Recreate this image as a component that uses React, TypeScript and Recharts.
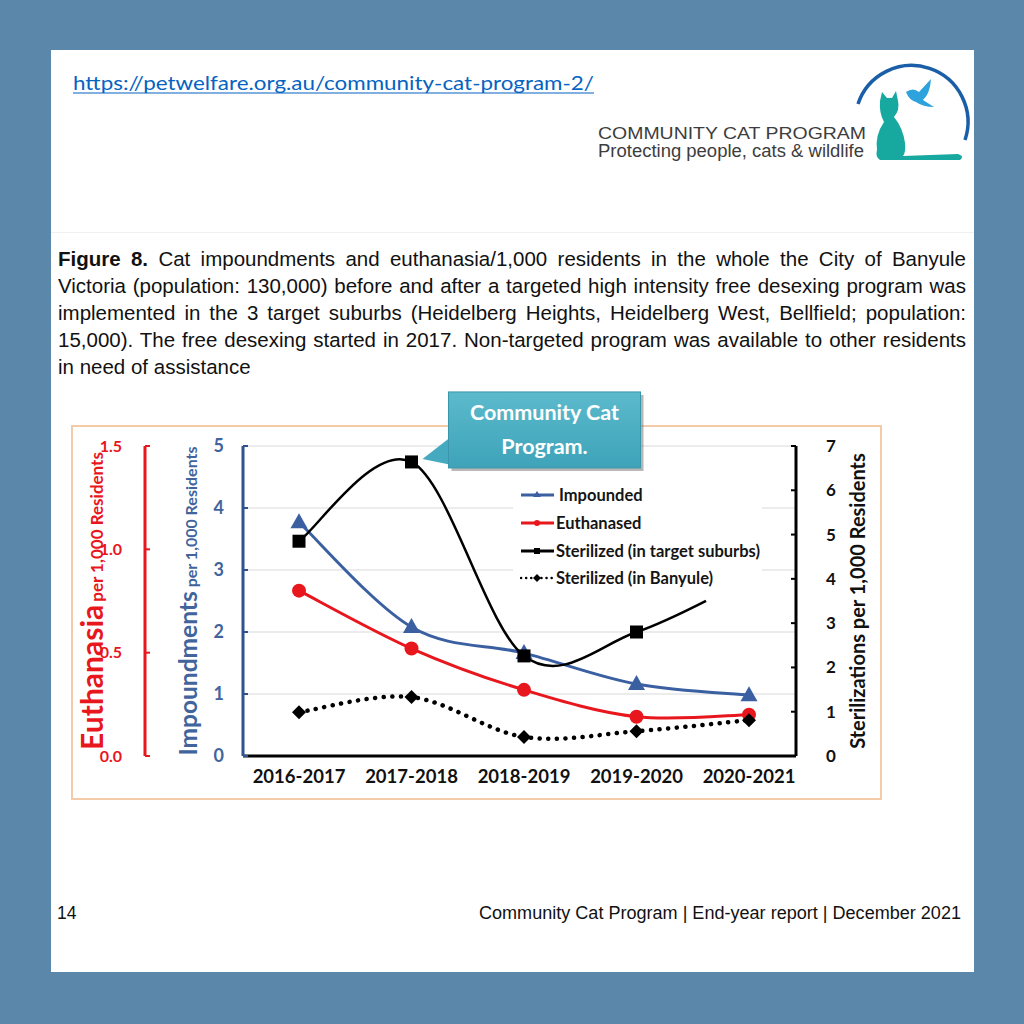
import React from 'react';
import { LineChart, Line, XAxis, YAxis, CartesianGrid, Legend } from 'recharts';

// ---------------- data ----------------
const years = ['2016-2017', '2017-2018', '2018-2019', '2019-2020', '2020-2021'];
const impounded = [3.77, 2.08, 1.66, 1.16, 0.98];
const euthanased = [0.8, 0.52, 0.32, 0.19, 0.2];
const sterilizedTarget = [4.85, 6.64, 2.26, 2.8, 4.0];
const sterilizedBanyule = [0.99, 1.33, 0.43, 0.56, 0.81];

const impTicks = [0, 1, 2, 3, 4, 5];
const euthTicks = [0, 0.5, 1, 1.5];
const sterTicks = [0, 1, 2, 3, 4, 5, 6, 7];

const legendLabels = ['Impounded', 'Euthanased', 'Sterilized (in target suburbs)', 'Sterilized (in Banyule)'];

const captionLines = [
  'Cat impoundments and euthanasia/1,000 residents in the whole the City of Banyule',
  'Victoria (population: 130,000) before and after a targeted high intensity free desexing program was',
  'implemented in the 3 target suburbs (Heidelberg Heights, Heidelberg West, Bellfield; population:',
  '15,000). The free desexing started in 2017. Non-targeted program was available to other residents',
  'in need of assistance',
];

const data = years.map((year, i) => ({
  year,
  impounded: impounded[i],
  euthanased: euthanased[i],
  sterTarget: sterilizedTarget[i],
  sterBanyule: sterilizedBanyule[i],
}));

// ---------------- style ----------------
const BLUE = '#3b60a2';
const BLUE_AXIS = '#2f5391';
const BLUE_TEXT = '#41649c';
const RED = '#e8161d';
const BLACK = '#000000';
const CHART_FONT = 'Lato, "Open Sans", sans-serif';
const ARIAL = '"Liberation Sans", Arial, sans-serif';

const IMP_ID = 'a1imp';
const EUTH_ID = 'b2euth';
const STER_ID = 'c3ster';

// Excel-like smoothed curve (Catmull-Rom, factor 1/6); optional partial last segment
function excelCurve(lastFrac = 1) {
  return (ctx: any) => {
    let pts: number[][] = [];
    return {
      areaStart() {},
      areaEnd() {},
      lineStart() {
        pts = [];
      },
      point(x: number, y: number) {
        pts.push([+x, +y]);
      },
      lineEnd() {
        const n = pts.length;
        if (!n) return;
        ctx.moveTo(pts[0][0], pts[0][1]);
        for (let i = 0; i < n - 1; i++) {
          const p0 = pts[Math.max(0, i - 1)];
          const p1 = pts[i];
          const p2 = pts[i + 1];
          const p3 = pts[Math.min(n - 1, i + 2)];
          const c1 = [p1[0] + (p2[0] - p0[0]) / 6, p1[1] + (p2[1] - p0[1]) / 6];
          const c2 = [p2[0] - (p3[0] - p1[0]) / 6, p2[1] - (p3[1] - p1[1]) / 6];
          if (i === n - 2 && lastFrac < 1) {
            const t = lastFrac;
            const lerp = (a: number[], b: number[]) => [a[0] + (b[0] - a[0]) * t, a[1] + (b[1] - a[1]) * t];
            const a = lerp(p1, c1);
            const b = lerp(c1, c2);
            const c = lerp(c2, p2);
            const d = lerp(a, b);
            const e = lerp(b, c);
            const f = lerp(d, e);
            ctx.bezierCurveTo(a[0], a[1], d[0], d[1], f[0], f[1]);
          } else {
            ctx.bezierCurveTo(c1[0], c1[1], c2[0], c2[1], p2[0], p2[1]);
          }
        }
      },
    };
  };
}

const smooth = excelCurve(1);
const smoothPartial = excelCurve(0.55);

// ---------------- markers ----------------
const TriangleDot = (p: any) => {
  const { cx, cy, index } = p;
  if (cx == null || cy == null) return <g key={`t-${index}`} />;
  return (
    <polygon
      key={`t-${index}`}
      points={`${cx},${cy - 9} ${cx + 8.5},${cy + 6} ${cx - 8.5},${cy + 6}`}
      fill={BLUE}
    />
  );
};

const CircleDot = (p: any) => {
  const { cx, cy, index } = p;
  if (cx == null || cy == null) return <g key={`c-${index}`} />;
  return <circle key={`c-${index}`} cx={cx} cy={cy} r={7} fill={RED} />;
};

const Callout = ({ x, y }: { x: number; y: number }) => (
  <g>
    <defs>
      <linearGradient id="calloutGrad" x1="0" y1="0" x2="0" y2="1">
        <stop offset="0" stopColor="#5cbacc" />
        <stop offset="1" stopColor="#3ea3b9" />
      </linearGradient>
    </defs>
    <rect x={x + 40} y={y - 67} width={192} height={76} fill="#7a7a7a" opacity={0.55} />
    <polygon points={`${x + 38},${y - 24} ${x + 11},${y - 3} ${x + 55},${y + 6}`} fill="#45a9bf" />
    <rect x={x + 37} y={y - 70} width={192} height={76} fill="url(#calloutGrad)" stroke="#3a97ab" strokeWidth={1} />
    <text
      x={x + 133}
      y={y - 42}
      textAnchor="middle"
      fill="#ffffff"
      fontFamily={CHART_FONT}
      fontWeight="bold"
      fontSize={21.5}
    >
      Community Cat
    </text>
    <text
      x={x + 133}
      y={y - 8}
      textAnchor="middle"
      fill="#ffffff"
      fontFamily={CHART_FONT}
      fontWeight="bold"
      fontSize={21.5}
    >
      Program.
    </text>
  </g>
);

const SquareDot = (p: any) => {
  const { cx, cy, index } = p;
  if (cx == null || cy == null || index === years.length - 1) return <g key={`s-${index}`} />;
  return (
    <g key={`s-${index}`}>
      <rect x={cx - 6.5} y={cy - 6.5} width={13} height={13} fill={BLACK} />
      {index === 1 && <Callout x={cx} y={cy} />}
    </g>
  );
};

const DiamondDot = (p: any) => {
  const { cx, cy, index } = p;
  if (cx == null || cy == null) return <g key={`d-${index}`} />;
  return (
    <polygon
      key={`d-${index}`}
      points={`${cx},${cy - 7} ${cx + 7},${cy} ${cx},${cy + 7} ${cx - 7},${cy}`}
      fill={BLACK}
    />
  );
};

// ---------------- axis labels ----------------
const EuthLabel = (p: any) => {
  const vb = p.viewBox || { x: 70, y: 446, width: 75, height: 310 };
  const cx = vb.x + 33;
  const cy = vb.y + vb.height / 2;
  return (
    <text
      transform={`translate(${cx},${cy}) rotate(-90)`}
      textAnchor="middle"
      fill={RED}
      fontFamily={CHART_FONT}
      fontWeight="bold"
    >
      <tspan fontSize={30}>Euthanasia</tspan>
      <tspan fontSize={17} dx={3}>per 1,000 Residents</tspan>
    </text>
  );
};

const ImpLabel = (p: any) => {
  const vb = p.viewBox || { x: 145, y: 446, width: 98, height: 310 };
  const cx = vb.x + 52;
  const cy = vb.y + vb.height / 2;
  return (
    <text
      transform={`translate(${cx},${cy}) rotate(-90)`}
      textAnchor="middle"
      fill={BLUE_TEXT}
      fontFamily={CHART_FONT}
      fontWeight="bold"
    >
      <tspan fontSize={24.5}>Impoundments</tspan>
      <tspan fontSize={16} dx={4}>per 1,000 Residents</tspan>
    </text>
  );
};

const SterLabel = (p: any) => {
  const vb = p.viewBox || { x: 796, y: 446, width: 86, height: 310 };
  const cx = vb.x + 69;
  const cy = vb.y + vb.height / 2;
  return (
    <text
      transform={`translate(${cx},${cy}) rotate(-90)`}
      textAnchor="middle"
      fill="#111"
      fontFamily={CHART_FONT}
      fontWeight="bold"
      fontSize={20}
    >
      Sterilizations per 1,000 Residents
    </text>
  );
};

// ---------------- legend ----------------
const legendStyles = [
  { color: BLUE, marker: 'tri', dotted: false, textLeft: 46 },
  { color: RED, marker: 'dot', dotted: false, textLeft: 43 },
  { color: BLACK, marker: 'sq', dotted: false, textLeft: 43 },
  { color: BLACK, marker: 'dia', dotted: true, textLeft: 43 },
];

const renderLegend = () => (
  <div style={{ position: 'relative', width: 249, height: 112, background: '#fff' }}>
    {legendLabels.map((label, i) => {
      const s = legendStyles[i];
      const top = i * 27.8;
      return (
        <div key={label} style={{ position: 'absolute', left: 0, top, width: 249, height: 28 }}>
          <svg width={36} height={28} style={{ position: 'absolute', left: 7, top: 0 }}>
            <line
              x1={1}
              y1={14}
              x2={34}
              y2={14}
              stroke={s.color}
              strokeWidth={s.dotted ? 2.5 : 3}
              strokeDasharray={s.dotted ? '0.1 5' : undefined}
              strokeLinecap={s.dotted ? 'round' : 'butt'}
            />
            {s.marker === 'tri' && <polygon points="17,10 21,16 13,16" fill={s.color} />}
            {s.marker === 'dot' && <circle cx={17} cy={14} r={3} fill={s.color} />}
            {s.marker === 'sq' && <rect x={14} y={11} width={6} height={6} fill={s.color} />}
            {s.marker === 'dia' && <polygon points="17,10 21,14 17,18 13,14" fill={s.color} />}
          </svg>
          <span
            style={{
              position: 'absolute',
              left: s.textLeft,
              top: 0,
              lineHeight: '28px',
              fontFamily: CHART_FONT,
              fontWeight: 'bold',
              fontSize: 16.5,
              color: '#151515',
              whiteSpace: 'nowrap',
            }}
          >
            {label}
          </span>
        </div>
      );
    })}
  </div>
);

// ---------------- header / footer ----------------
const Header = () => (
  <svg width={1024} height={1024} style={{ position: 'absolute', left: 0, top: 0 }}>
    <text x={73} y={90} fontFamily={CHART_FONT} fontSize={20} fill="#0563c1" textLength={521} lengthAdjust="spacingAndGlyphs">
      https://petwelfare.org.au/community-cat-program-2/
    </text>
    <line x1={73} y1={93} x2={594} y2={93} stroke="#0563c1" strokeWidth={1.2} />
    <text x={598} y={139} fontFamily={ARIAL} fontSize={17} fill="#3d3d3d" textLength={268} lengthAdjust="spacingAndGlyphs">
      COMMUNITY CAT PROGRAM
    </text>
    <text x={598} y={157} fontFamily={ARIAL} fontSize={17.5} fill="#3d3d3d" textLength={266} lengthAdjust="spacingAndGlyphs">
      Protecting people, cats &amp; wildlife
    </text>
    <path d="M 858 104 A 56 56 0 1 1 965 140" fill="none" stroke="#1a5ea8" strokeWidth={3.5} />
    <path
      d="M 880 101 L 882 92 L 887 98 L 892 98 L 896 91 L 898 101 Q 900 110 894 117 Q 903 128 905 143 Q 906 152 903 156 L 958 154 Q 965 156 960 160 L 880 160 Q 875 157 877 150 Q 875 135 884 122 Q 879 113 880 101 Z"
      fill="#17a89f"
    />
    <path
      d="M 906 92 Q 913 87 919 92 L 931 79 Q 930 94 923 100 L 934 107 Q 923 107 916 102 Q 909 100 906 92 Z"
      fill="#2ea2dc"
    />
    <text x={57} y={919} fontFamily={ARIAL} fontSize={17.5} fill="#111">
      14
    </text>
    <text x={479} y={919} fontFamily={ARIAL} fontSize={17.5} fill="#111" textLength={482} lengthAdjust="spacingAndGlyphs">
      Community Cat Program | End-year report | December 2021
    </text>
  </svg>
);

export default function App() {
  return (
    <div style={{ position: 'absolute', left: 0, top: 0, width: 1024, height: 1024, background: '#5b87ab', overflow: 'hidden' }}>
      <div style={{ position: 'absolute', left: 51, top: 50, width: 923, height: 922, background: '#ffffff' }} />
      <div style={{ position: 'absolute', left: 51, top: 232, width: 923, height: 1, background: '#f0f0f0' }} />
      <Header />

      {/* caption */}
      <div
        style={{
          position: 'absolute',
          left: 58,
          top: 245,
          width: 908,
          fontFamily: ARIAL,
          fontSize: 20.5,
          lineHeight: '27px',
          color: '#111',
        }}
      >
        {captionLines.map((line, i) => (
          <div
            key={i}
            style={{
              textAlign: i < captionLines.length - 1 ? 'justify' : 'left',
              textAlignLast: i < captionLines.length - 1 ? 'justify' : 'left',
              height: 27,
              overflow: 'visible',
            }}
          >
            {i === 0 && <b>Figure 8. </b>}
            {line}
          </div>
        ))}
      </div>

      {/* chart frame */}
      <div
        style={{
          position: 'absolute',
          left: 71,
          top: 425,
          width: 811,
          height: 375,
          boxSizing: 'border-box',
          border: '2px solid #f4cba8',
          background: '#fff',
        }}
      />

      <div style={{ position: 'absolute', left: 0, top: 0 }}>
        <LineChart width={1024} height={1024} data={data} margin={{ top: 446, right: 142, bottom: 238, left: 70 }}>
          <CartesianGrid yAxisId={IMP_ID} horizontal vertical={false} stroke="#d9d9d9" strokeWidth={1} />
          <XAxis
            dataKey="year"
            padding={{ left: 56, right: 47 }}
            axisLine={{ stroke: '#000', strokeWidth: 3 }}
            tickLine={false}
            tickMargin={8}
            height={30}
            tick={{ fill: '#111', fontFamily: CHART_FONT, fontWeight: 'bold', fontSize: 18.5 }}
          />
          <YAxis
            yAxisId={IMP_ID}
            orientation="left"
            width={98}
            domain={[0, 5]}
            ticks={impTicks}
            interval={0}
            axisLine={{ stroke: BLUE_AXIS, strokeWidth: 3 }}
            tickLine={{ stroke: BLUE_AXIS, strokeWidth: 2 }}
            tickSize={-5}
            tickMargin={24}
            tick={{ fill: BLUE_TEXT, fontFamily: CHART_FONT, fontWeight: 'bold', fontSize: 18 }}
            label={ImpLabel}
          />
          <YAxis
            yAxisId={EUTH_ID}
            orientation="left"
            width={75}
            domain={[0, 1.5]}
            ticks={euthTicks}
            interval={0}
            tickFormatter={(v: number) => v.toFixed(1)}
            axisLine={{ stroke: RED, strokeWidth: 3 }}
            tickLine={{ stroke: RED, strokeWidth: 2 }}
            tickSize={-5}
            tickMargin={28}
            tick={{ fill: RED, fontFamily: CHART_FONT, fontWeight: 'bold', fontSize: 16 }}
            label={EuthLabel}
          />
          <YAxis
            yAxisId={STER_ID}
            orientation="right"
            width={86}
            domain={[0, 7]}
            ticks={sterTicks}
            interval={0}
            axisLine={{ stroke: '#000', strokeWidth: 3 }}
            tickLine={{ stroke: '#000', strokeWidth: 2 }}
            tickSize={-5}
            tickMargin={35}
            tick={{ fill: '#111', fontFamily: CHART_FONT, fontWeight: 'bold', fontSize: 17 }}
            label={SterLabel}
          />
          <Legend
            layout="vertical"
            align="center"
            verticalAlign="middle"
            content={renderLegend}
            wrapperStyle={{ position: 'absolute', left: 513, top: 481, width: 249, height: 112 }}
          />
          <Line
            yAxisId={IMP_ID}
            dataKey="impounded"
            type={smooth as any}
            stroke={BLUE}
            strokeWidth={3}
            dot={TriangleDot}
            activeDot={false}
            isAnimationActive={false}
          />
          <Line
            yAxisId={EUTH_ID}
            dataKey="euthanased"
            type={smooth as any}
            stroke={RED}
            strokeWidth={3}
            dot={CircleDot}
            activeDot={false}
            isAnimationActive={false}
          />
          <Line
            yAxisId={STER_ID}
            dataKey="sterTarget"
            type={smoothPartial as any}
            stroke={BLACK}
            strokeWidth={2.5}
            dot={SquareDot}
            activeDot={false}
            isAnimationActive={false}
          />
          <Line
            yAxisId={STER_ID}
            dataKey="sterBanyule"
            type={smooth as any}
            stroke={BLACK}
            strokeWidth={4.5}
            strokeDasharray="0.1 8.5"
            strokeLinecap="round"
            dot={DiamondDot}
            activeDot={false}
            isAnimationActive={false}
          />
        </LineChart>
      </div>
    </div>
  );
}
